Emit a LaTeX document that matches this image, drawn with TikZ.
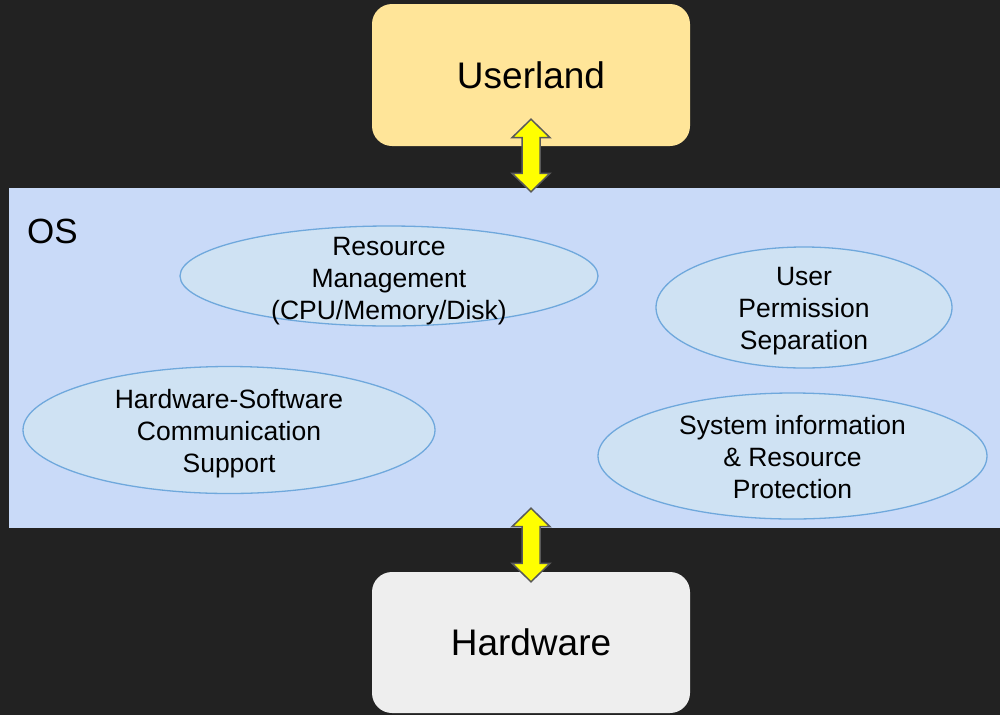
\documentclass[tikz,border=0pt]{standalone}
\usepackage{fontspec}
\setmainfont{Liberation Sans}
\usetikzlibrary{shapes.geometric,calc}
\definecolor{bgdark}{HTML}{222222}
\definecolor{userfill}{HTML}{FFE599}
\definecolor{hwfill}{HTML}{EEEEEE}
\definecolor{osfill}{HTML}{C9DAF8}
\definecolor{ellfill}{HTML}{CFE2F3}
\definecolor{elldraw}{HTML}{6FA8DC}
\definecolor{arrdraw}{HTML}{595959}
\definecolor{arrfill}{HTML}{FFFF00}
\begin{document}
\begin{tikzpicture}[x=1pt,y=-1pt,
  bigbox/.style={rectangle, rounded corners=20pt, minimum width=318pt, inner sep=0pt, font=\fontsize{37}{44}\selectfont, text=black},
  osbox/.style={rectangle, fill=osfill, draw=none, minimum width=991pt, minimum height=340pt, inner sep=0pt},
  task/.style={ellipse, fill=ellfill, draw=elldraw, line width=1.3pt, inner sep=0pt},
  tasktext/.style={inner sep=0pt, align=center, font=\fontsize{26.5}{32}\selectfont, text=black},
  dblarrow/.style={draw=arrdraw, fill=arrfill, line width=1.5pt, line join=miter}
]
\fill[bgdark] (0,0) rectangle (1000,715);
\useasboundingbox (0,0) rectangle (1000,715);

\node[osbox] (os) at (504.5,358) {};
\node[anchor=base west, inner sep=0pt, font=\fontsize{35}{42}\selectfont] (oslabel) at (27,243) {OS};

\node[bigbox, fill=userfill, minimum height=142pt] (user) at (531,75) {Userland};
\node[bigbox, fill=hwfill, minimum height=141pt] (hw) at (531,642.5) {Hardware};

\node[task, minimum width=418pt, minimum height=100pt] (res) at (389,276) {};
\node[tasktext] (res-t) at ($(res.center)+(0,5)$) {Resource\\Management\\(CPU/Memory/Disk)};
\node[task, minimum width=296pt, minimum height=121pt] (perm) at (804,307.5) {};
\node[tasktext] (perm-t) at ($(perm.center)+(0,4)$) {User\\Permission\\Separation};
\node[task, minimum width=412pt, minimum height=127pt] (hwsw) at (229,430) {};
\node[tasktext] (hwsw-t) at ($(hwsw.center)+(0,4)$) {Hardware-Software\\Communication\\Support};
\node[task, minimum width=389pt, minimum height=126pt] (sysinfo) at (792.5,456) {};
\node[tasktext] (sysinfo-t) at ($(sysinfo.center)+(0,1.5)$) {System information\\\& Resource\\Protection};

% arrow Userland <-> OS
\coordinate (t1) at ($(user.south)+(0,-27)$);
\coordinate (b1) at ($(user.south |- os.north)+(0,4)$);
\draw[dblarrow] (t1) -- ++(19,18.5) -- ++(-10,0) -- ($(b1)+(9,-18.5)$) -- ++(10,0) -- (b1)
  -- ++(-19,-18.5) -- ++(10,0) -- ($(t1)+(-9,18.5)$) -- ++(-10,0) -- cycle;

% arrow OS <-> Hardware
\coordinate (t2) at ($(hw.north |- os.south)+(0,-20)$);
\coordinate (b2) at ($(hw.north)+(0,10)$);
\draw[dblarrow] (t2) -- ++(19,18.5) -- ++(-10,0) -- ($(b2)+(9,-18.5)$) -- ++(10,0) -- (b2)
  -- ++(-19,-18.5) -- ++(10,0) -- ($(t2)+(-9,18.5)$) -- ++(-10,0) -- cycle;
\end{tikzpicture}
\end{document}
